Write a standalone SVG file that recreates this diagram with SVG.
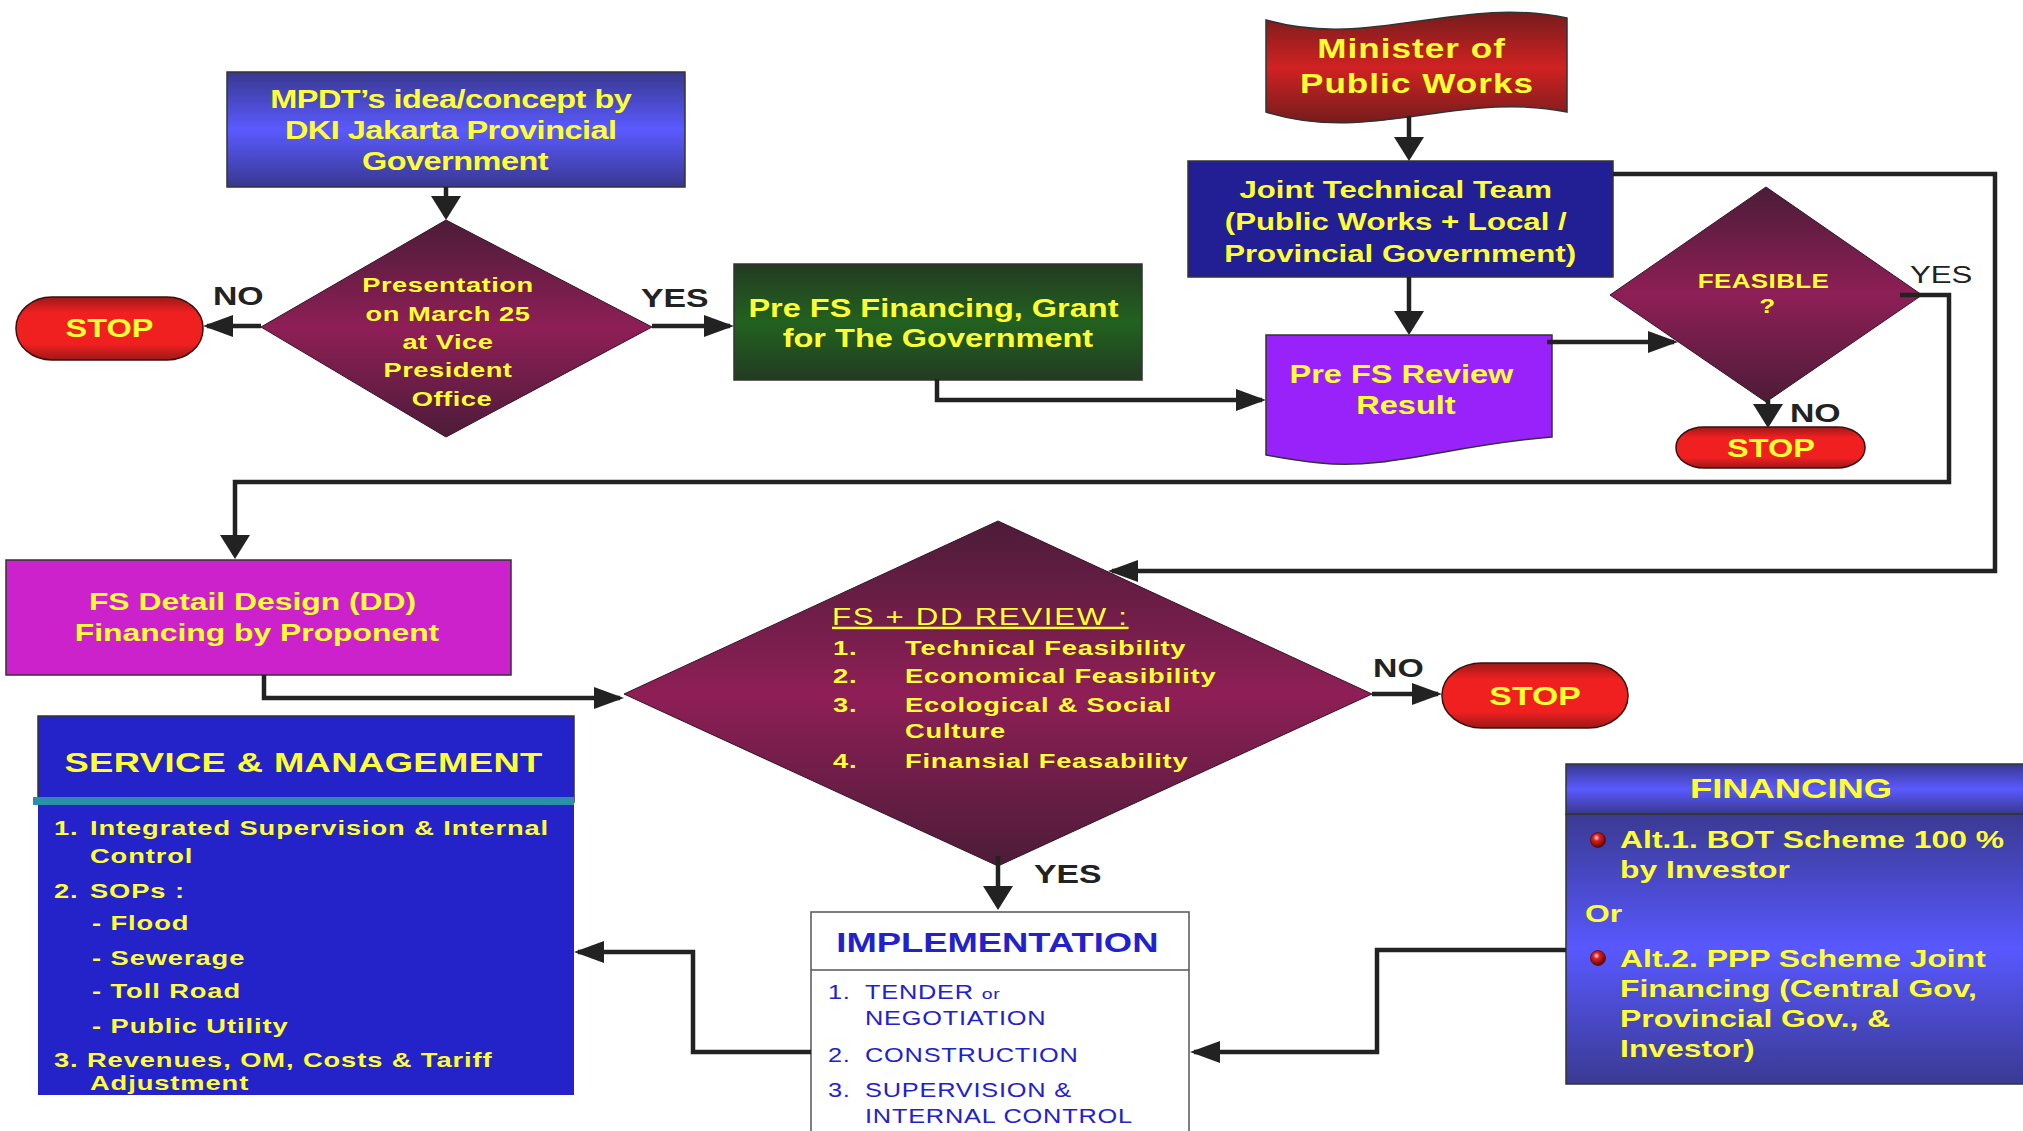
<svg xmlns="http://www.w3.org/2000/svg" width="2023" height="1131" viewBox="0 0 2023 1131">
<defs>
<linearGradient id="gBlue" x1="0" y1="0" x2="0" y2="1"><stop offset="0" stop-color="#38388f"/><stop offset="0.5" stop-color="#5a5aff"/><stop offset="1" stop-color="#38388f"/></linearGradient>
<linearGradient id="gFin" x1="0" y1="0" x2="0" y2="1"><stop offset="0" stop-color="#3a3a92"/><stop offset="0.5" stop-color="#5858ff"/><stop offset="1" stop-color="#3a3a92"/></linearGradient>
<linearGradient id="gDia" x1="0" y1="0" x2="0" y2="1"><stop offset="0" stop-color="#4c1c38"/><stop offset="0.5" stop-color="#8e1f56"/><stop offset="1" stop-color="#4c1c38"/></linearGradient>
<linearGradient id="gRed" x1="0" y1="0" x2="0" y2="1"><stop offset="0" stop-color="#9c1818"/><stop offset="0.25" stop-color="#f02020"/><stop offset="0.75" stop-color="#f02020"/><stop offset="1" stop-color="#9c1818"/></linearGradient>
<linearGradient id="gMin" x1="0" y1="0" x2="0" y2="1"><stop offset="0" stop-color="#761c1c"/><stop offset="0.5" stop-color="#d02222"/><stop offset="1" stop-color="#761c1c"/></linearGradient>
<linearGradient id="gGreen" x1="0" y1="0" x2="0" y2="1"><stop offset="0" stop-color="#233b22"/><stop offset="0.5" stop-color="#22621f"/><stop offset="1" stop-color="#233b22"/></linearGradient>
<radialGradient id="gBul" cx="0.4" cy="0.35" r="0.6"><stop offset="0" stop-color="#ffdddd"/><stop offset="0.35" stop-color="#e02020"/><stop offset="1" stop-color="#6a0a0a"/></radialGradient>
<marker id="ah" markerUnits="userSpaceOnUse" markerWidth="30" markerHeight="22" viewBox="0 0 30 22" refX="26" refY="11" orient="auto"><path d="M0,0 L30,11 L0,22 Z" fill="#222"/></marker>
<marker id="av" markerUnits="userSpaceOnUse" markerWidth="24" markerHeight="30" viewBox="0 0 24 30" refX="20" refY="15" orient="auto"><path d="M0,0 L24,15 L0,30 Z" fill="#222"/></marker>
</defs>
<style>
text{font-family:"Liberation Sans",Arial,sans-serif;}
.y{fill:#ffff33;font-weight:bold;}
.c{text-anchor:middle;}
.lbl{fill:#222;font-weight:bold;font-size:26px;}
.box{stroke:#333;stroke-width:1.5;}
.dia{fill:url(#gDia);stroke:#3a1428;stroke-width:1;}
.stop{fill:url(#gRed);stroke:#3a1010;stroke-width:1.5;}
.conn path{fill:none;stroke:#222;stroke-width:4.5;}
.h{marker-end:url(#ah);}
.v{marker-end:url(#av);}
.impl{fill:#2222cc;}
</style>
<rect width="2023" height="1131" fill="#ffffff"/>

<g id="mpdt">
<rect class="box" x="227" y="72" width="458" height="115" fill="url(#gBlue)"/>
<g transform="scale(1.3 1)"><text class="y c" font-size="25" letter-spacing="-0.4">
<tspan x="350" y="108">MPDT’s idea/concept by</tspan>
<tspan x="350" y="139">DKI Jakarta Provincial</tspan>
<tspan x="350" y="170">Government</tspan></text></g>
</g>

<g id="presentation">
<polygon class="dia" points="446,220 652,327 446,437 261,327"/>
<g transform="scale(1.3 1)"><text class="y c" font-size="21" letter-spacing="0.4">
<tspan x="347.7" y="292">Presentation</tspan>
<tspan x="347.7" y="321">on March 25</tspan>
<tspan x="347.7" y="349">at Vice</tspan>
<tspan x="347.7" y="377">President</tspan>
<tspan x="347.7" y="406">Office</tspan></text></g>
</g>

<g id="stop1">
<rect class="stop" x="16" y="297" width="187" height="63" rx="36" ry="31"/>
<g transform="scale(1.3 1)"><text class="y c" x="84.2" y="337" font-size="25">STOP</text></g>
</g>

<g id="prefs-financing">
<rect class="box" x="734" y="264" width="408" height="116" fill="url(#gGreen)"/>
<g transform="scale(1.3 1)"><text class="y c" font-size="25">
<tspan x="721.5" y="317">Pre FS Financing, Grant</tspan>
<tspan x="721.5" y="347">for The Government</tspan></text></g>
</g>

<g id="minister">
<path class="box" d="M1266,20 C1370,50 1460,-5 1567,18 L1567,112 C1460,90 1370,145 1266,112 Z" fill="url(#gMin)"/>
<g transform="scale(1.3 1)"><text class="y c" font-size="27" letter-spacing="0.8">
<tspan x="1090" y="58">Minister of</tspan>
<tspan x="1090" y="93">Public Works</tspan></text></g>
</g>

<g id="joint-team">
<rect class="box" x="1188" y="161" width="425" height="116" fill="#221f95"/>
<g transform="scale(1.3 1)"><text class="y c" font-size="24">
<tspan x="1077" y="198">Joint Technical Team</tspan>
<tspan x="1077" y="230">(Public Works + Local /</tspan>
<tspan x="1077" y="262">Provincial Government)</tspan></text></g>
</g>

<g id="prefs-review">
<path class="box" d="M1266,335 H1552 V437 C1450,445 1390,470 1320,463 C1300,461 1282,458 1266,455 Z" fill="#9922fb"/>
<g transform="scale(1.3 1)"><text class="y c" font-size="25">
<tspan x="1081.5" y="383">Pre FS Review</tspan>
<tspan x="1081.5" y="414">Result</tspan></text></g>
</g>

<g id="feasible">
<polygon class="dia" points="1766,187 1922,295 1766,402 1610,295"/>
<g transform="scale(1.3 1)"><text class="y c" font-size="20" letter-spacing="0.3">
<tspan x="1359.5" y="288">FEASIBLE</tspan>
<tspan x="1359.5" y="313">?</tspan></text></g>
</g>

<g id="stop2">
<rect class="stop" x="1676" y="427" width="189" height="41" rx="28" ry="20"/>
<g transform="scale(1.3 1)"><text class="y c" x="1362.3" y="457" font-size="25">STOP</text></g>
</g>

<g id="fs-detail">
<rect class="box" x="6" y="560" width="505" height="115" fill="#cc22cc"/>
<g transform="scale(1.3 1)"><text class="y c" font-size="24.5">
<tspan x="197.7" y="610">FS Detail Design (DD)</tspan>
<tspan x="197.7" y="641">Financing by Proponent</tspan></text></g>
</g>

<g id="fsdd-review">
<polygon class="dia" points="998,521 1372,694 998,866 624,694"/>
<g transform="scale(1.3 1)">
<text x="640" y="625" font-size="24" fill="#ffff33" text-decoration="underline" letter-spacing="1.3">FS + DD REVIEW :</text>
<text class="y" font-size="21" letter-spacing="0.6">
<tspan x="640.8" y="655">1.</tspan><tspan x="696.2" y="655">Technical Feasibility</tspan>
<tspan x="640.8" y="683">2.</tspan><tspan x="696.2" y="683">Economical Feasibility</tspan>
<tspan x="640.8" y="712">3.</tspan><tspan x="696.2" y="712">Ecological &amp; Social</tspan>
<tspan x="696.2" y="738">Culture</tspan>
<tspan x="640.8" y="768">4.</tspan><tspan x="696.2" y="768">Finansial Feasability</tspan></text>
</g>
</g>

<g id="stop3">
<rect class="stop" x="1442" y="663" width="186" height="65" rx="40" ry="32"/>
<g transform="scale(1.3 1)"><text class="y c" x="1180.8" y="705" font-size="26">STOP</text></g>
</g>

<g id="service">
<rect x="38" y="716" width="536" height="379" fill="#2323c9"/>
<rect class="box" x="38" y="716" width="536" height="86" fill="#2323c9"/>
<rect x="33" y="797" width="541" height="8" fill="#2a8fa8"/>
<g transform="scale(1.3 1)">
<text class="y c" x="233.5" y="772" font-size="28" letter-spacing="0.3">SERVICE &amp; MANAGEMENT</text>
<text class="y" font-size="21" letter-spacing="0.7">
<tspan x="41.5" y="835">1.</tspan><tspan x="69.2" y="835">Integrated Supervision &amp; Internal</tspan>
<tspan x="69.2" y="863">Control</tspan>
<tspan x="41.5" y="898">2.</tspan><tspan x="69.2" y="898">SOPs :</tspan>
<tspan x="70.8" y="930">- Flood</tspan>
<tspan x="70.8" y="965">- Sewerage</tspan>
<tspan x="70.8" y="998">- Toll Road</tspan>
<tspan x="70.8" y="1033">- Public Utility</tspan>
<tspan x="41.5" y="1067">3.</tspan><tspan x="66.9" y="1067">Revenues, OM, Costs &amp; Tariff</tspan>
<tspan x="69.2" y="1090">Adjustment</tspan></text>
</g>
</g>

<g id="implementation">
<rect x="811" y="912" width="378" height="230" fill="#ffffff" stroke="#555" stroke-width="1.5"/>
<line x1="811" y1="970" x2="1189" y2="970" stroke="#555" stroke-width="1.5"/>
<g transform="scale(1.3 1)">
<text class="impl c" x="767.2" y="952" font-size="28" font-weight="bold">IMPLEMENTATION</text>
<text class="impl" font-size="19.5" letter-spacing="0.6">
<tspan x="636.9" y="999">1.</tspan><tspan x="665.4" y="999">TENDER <tspan font-size="15">or</tspan></tspan>
<tspan x="665.4" y="1025">NEGOTIATION</tspan>
<tspan x="636.9" y="1062">2.</tspan><tspan x="665.4" y="1062">CONSTRUCTION</tspan>
<tspan x="636.9" y="1097">3.</tspan><tspan x="665.4" y="1097">SUPERVISION &amp;</tspan>
<tspan x="665.4" y="1123">INTERNAL CONTROL</tspan></text>
</g>
</g>

<g id="financing">
<rect x="1566" y="814" width="460" height="270" fill="url(#gFin)" stroke="#333" stroke-width="1.5"/>
<rect class="box" x="1566" y="764" width="460" height="50" fill="url(#gBlue)"/>
<circle cx="1598" cy="840" r="7.5" fill="url(#gBul)" stroke="#5a0a0a" stroke-width="0.8"/>
<circle cx="1598" cy="958" r="7.5" fill="url(#gBul)" stroke="#5a0a0a" stroke-width="0.8"/>
<g transform="scale(1.3 1)">
<text class="y c" x="1377.7" y="798" font-size="28">FINANCING</text>
<text class="y" font-size="24.5">
<tspan x="1246.2" y="848">Alt.1. BOT Scheme 100 %</tspan>
<tspan x="1246.2" y="878">by Investor</tspan>
<tspan x="1219.2" y="922">Or</tspan>
<tspan x="1246.2" y="967">Alt.2. PPP Scheme Joint</tspan>
<tspan x="1246.2" y="997">Financing (Central Gov,</tspan>
<tspan x="1246.2" y="1027">Provincial Gov., &amp;</tspan>
<tspan x="1246.2" y="1057">Investor)</tspan></text>
</g>
</g>

<g id="connectors" class="conn">
<path class="v" d="M446,187 V216"/>
<path class="h" d="M261,326 H207"/>
<path class="h" d="M652,326 H730"/>
<path class="h" d="M937,379 V400 H1262"/>
<path class="v" d="M1409,116 V157"/>
<path class="v" d="M1409,277 V331"/>
<path class="h" d="M1547,342 H1674"/>
<path class="v" d="M1768,400 V424"/>
<path class="v" d="M1900,295 H1949 V482 H235 V555"/>
<path class="h" d="M1613,174 H1995 V571 H1112"/>
<path class="h" d="M264,675 V698 H620"/>
<path class="h" d="M1372,694 H1438"/>
<path class="v" d="M998,856 V906"/>
<path class="h" d="M811,1052 H693 V952 H578"/>
<path class="h" d="M1566,950 H1377 V1052 H1194"/>
</g>

<g id="labels" transform="scale(1.3 1)">
<text class="lbl" x="163.8" y="305">NO</text>
<text class="lbl" x="493.1" y="307">YES</text>
<text x="1469.2" y="283" font-size="24" fill="#222">YES</text>
<text class="lbl" x="1376.9" y="422">NO</text>
<text class="lbl" x="1056.2" y="677">NO</text>
<text class="lbl" x="795.4" y="883">YES</text>
</g>
</svg>
